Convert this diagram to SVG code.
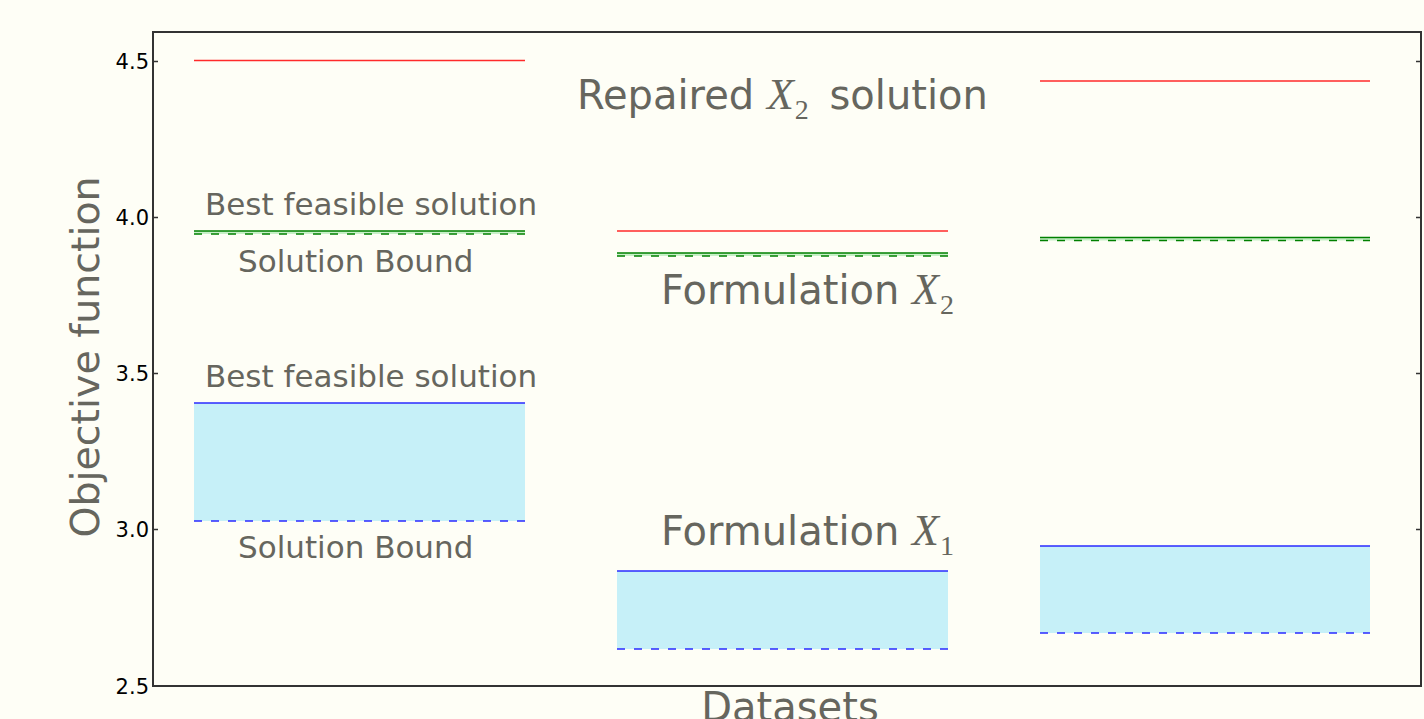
<svg xmlns="http://www.w3.org/2000/svg" width="1424" height="719" viewBox="0 0 1424 719">
<style>
.lbl{font-family:"DejaVu Sans",sans-serif;fill:#66665e}
.math{font-family:"Liberation Serif","DejaVu Serif",serif;font-style:italic}
.sub{font-family:"Liberation Serif","DejaVu Serif",serif;font-style:normal}
.tick{font-family:"DejaVu Sans",sans-serif;font-size:21px;fill:#000}
.red{stroke:#ff2a2a;stroke-width:1.5;fill:none}
.gs{stroke:#008000;stroke-width:1.5;fill:none}
.gd{stroke:#008000;stroke-width:1.5;fill:none;stroke-dasharray:8 9}
.bs{stroke:#2a2aff;stroke-width:1.5;fill:none}
.bd{stroke:#2a2aff;stroke-width:1.5;fill:none;stroke-dasharray:8 9}
.fb{fill:#c6f0f8}
.fg{fill:#c8f0c8}
</style>
<rect x="0" y="0" width="1424" height="719" fill="#fefef6"/>
<g id="axes">
<rect x="153" y="32" width="1268" height="654" fill="none" stroke="#333" stroke-width="2"/>
<path d="M153 61.5h5M153 217.5h5M153 373.5h5M153 529.5h5M1421 61.5h-5M1421 217.5h-5M1421 373.5h-5M1421 529.5h-5" stroke="#333" stroke-width="1.5"/>
<text class="tick" x="149" y="69" text-anchor="end">4.5</text>
<text class="tick" x="149" y="225" text-anchor="end">4.0</text>
<text class="tick" x="149" y="381" text-anchor="end">3.5</text>
<text class="tick" x="149" y="537" text-anchor="end">3.0</text>
<text class="tick" x="149" y="694" text-anchor="end">2.5</text>
<text class="lbl" font-size="39.5" transform="translate(99 357) rotate(-90)" text-anchor="middle">Objective function</text>
<text class="lbl" font-size="40" x="790" y="721" text-anchor="middle">Datasets</text>
</g>
<g id="dataset1">
<rect class="fg" x="194" y="231" width="331" height="3"/>
<rect class="fb" x="194" y="403" width="331" height="118"/>
<line class="red" x1="194" y1="60.5" x2="525" y2="60.5"/>
<line class="gs" x1="194" y1="231" x2="525" y2="231"/>
<line class="gd" x1="194" y1="234" x2="525" y2="234"/>
<line class="bs" x1="194" y1="403" x2="525" y2="403"/>
<line class="bd" x1="194" y1="521" x2="525" y2="521"/>
</g>
<g id="dataset2">
<rect class="fg" x="617" y="253" width="331" height="3"/>
<rect class="fb" x="617" y="571" width="331" height="78"/>
<line class="red" x1="617" y1="231" x2="948" y2="231"/>
<line class="gs" x1="617" y1="253" x2="948" y2="253"/>
<line class="gd" x1="617" y1="256" x2="948" y2="256"/>
<line class="bs" x1="617" y1="571" x2="948" y2="571"/>
<line class="bd" x1="617" y1="649" x2="948" y2="649"/>
</g>
<g id="dataset3">
<rect class="fg" x="1040" y="237.5" width="330" height="3"/>
<rect class="fb" x="1040" y="546" width="330" height="87"/>
<line class="red" x1="1040" y1="81" x2="1370" y2="81"/>
<line class="gs" x1="1040" y1="237.5" x2="1370" y2="237.5"/>
<line class="gd" x1="1040" y1="240.5" x2="1370" y2="240.5"/>
<line class="bs" x1="1040" y1="546" x2="1370" y2="546"/>
<line class="bd" x1="1040" y1="633" x2="1370" y2="633"/>
</g>
<g id="labels">
<text class="lbl" font-size="40" x="577" y="109">Repaired <tspan class="math" font-size="44">X</tspan><tspan class="sub" font-size="28" dx="1" dy="10">2</tspan><tspan dx="8" dy="-10"> solution</tspan></text>
<text class="lbl" font-size="31" x="205" y="215">Best feasible solution</text>
<text class="lbl" font-size="31" x="238" y="272">Solution Bound</text>
<text class="lbl" font-size="40" x="661" y="304">Formulation <tspan class="math" font-size="44">X</tspan><tspan class="sub" font-size="28" dx="1" dy="10">2</tspan></text>
<text class="lbl" font-size="31" x="205" y="387">Best feasible solution</text>
<text class="lbl" font-size="31" x="238" y="558">Solution Bound</text>
<text class="lbl" font-size="40" x="661" y="545">Formulation <tspan class="math" font-size="44">X</tspan><tspan class="sub" font-size="28" dx="1" dy="10">1</tspan></text>
</g>
</svg>
